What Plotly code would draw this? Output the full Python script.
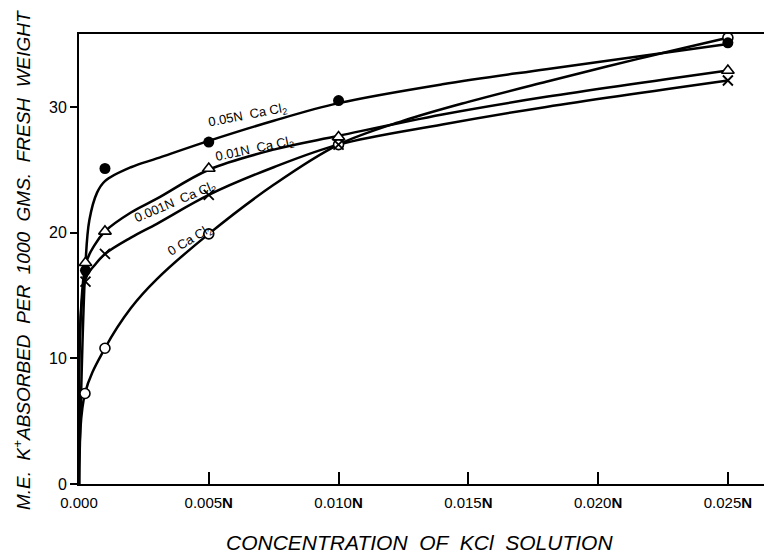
import plotly.graph_objects as go

# ---- data ----
kcl_pts = [0.00025, 0.001, 0.005, 0.010, 0.025]
ca005_pts = [17.0, 25.1, 27.2, 30.5, 35.1]
ca001_pts = [17.6, 20.1, 25.1, 27.6, 32.9]
ca0001_pts = [16.1, 18.3, 23.0, 27.0, 32.1]
ca0_kcl = [0.00023, 0.001, 0.005, 0.010, 0.025]
ca0_pts = [7.2, 10.8, 19.9, 27.0, 35.5]

# smooth curves drawn by hand in the original
c005_x = [0, 0.00025, 0.0004, 0.0007, 0.001, 0.002, 0.003, 0.005, 0.0075, 0.010, 0.014, 0.018, 0.025]
c005_y = [0, 17.5, 21.0, 23.2, 24.1, 25.2, 25.9, 27.3, 28.9, 30.3, 31.8, 33.0, 35.0]
c001_x = [0, 0.00025, 0.0006, 0.001, 0.002, 0.003, 0.005, 0.0075, 0.010, 0.014, 0.018, 0.025]
c001_y = [0, 17.4, 19.0, 20.1, 21.6, 22.7, 25.0, 26.6, 27.7, 29.4, 30.8, 32.9]
c0001_x = [0, 0.00025, 0.0006, 0.001, 0.002, 0.003, 0.005, 0.0075, 0.010, 0.014, 0.018, 0.025]
c0001_y = [0, 16.3, 17.4, 18.3, 19.6, 20.7, 23.0, 25.2, 27.0, 28.6, 30.0, 32.1]
c0_x = [0, 0.00023, 0.001, 0.002, 0.003, 0.005, 0.0075, 0.010, 0.0125, 0.015, 0.018, 0.0215, 0.025]
c0_y = [0, 7.2, 10.8, 14.0, 16.3, 19.9, 23.8, 27.0, 28.9, 30.4, 32.0, 33.8, 35.5]

x_tickvals = [0, 0.005, 0.010, 0.015, 0.020, 0.025]
x_ticktext = ["0.000", "0.005<b>N</b>", "0.010<b>N</b>", "0.015<b>N</b>", "0.020<b>N</b>", "0.025<b>N</b>"]
y_tickvals = [0, 10, 20, 30]

labels = [
    ("0.05N  Ca Cl<sub>2</sub>", 0.00651, 29.3, -11),
    ("0.01N  Ca Cl<sub>2</sub>", 0.00675, 26.6, -12),
    ("0.001N  Ca Cl<sub>2</sub>", 0.0037, 22.4, -23),
    ("0 Ca Cl<sub>2</sub>", 0.00428, 19.35, -31),
]

FONT = "Liberation Sans"
fig = go.Figure()

for cx, cy in [(c005_x, c005_y), (c001_x, c001_y), (c0001_x, c0001_y), (c0_x, c0_y)]:
    fig.add_trace(go.Scatter(x=cx, y=cy, mode="lines",
                             line=dict(color="black", width=2.5, shape="spline", smoothing=1.0),
                             hoverinfo="skip", showlegend=False))

fig.add_trace(go.Scatter(x=ca0_kcl, y=ca0_pts, mode="markers",
                         marker=dict(symbol="circle", size=10, color="white",
                                     line=dict(color="black", width=1.6)), showlegend=False))
fig.add_trace(go.Scatter(x=kcl_pts, y=ca005_pts, mode="markers",
                         marker=dict(symbol="circle", size=11, color="black"), showlegend=False))
fig.add_trace(go.Scatter(x=kcl_pts, y=ca001_pts, mode="markers",
                         marker=dict(symbol="triangle-up", size=11, color="white",
                                     line=dict(color="black", width=1.6)), showlegend=False))
fig.add_trace(go.Scatter(x=kcl_pts, y=ca0001_pts, mode="markers",
                         marker=dict(symbol="x-thin-open", size=10, color="black",
                                     line=dict(color="black", width=1.8)), showlegend=False))

for txt, lx, ly, ang in labels:
    fig.add_annotation(x=lx, y=ly, xref="x", yref="y", text=txt, showarrow=False,
                       textangle=ang, font=dict(family=FONT, size=13, color="black"))

fig.add_annotation(x=0.492, y=-0.131, xref="paper", yref="paper", yanchor="middle",
                   text="<i>CONCENTRATION  OF  KCl  SOLUTION</i>", showarrow=False,
                   font=dict(family=FONT, size=21, color="black"))
fig.add_annotation(x=-0.082, y=0.498, xref="paper", yref="paper", xanchor="center",
                   text="<i>M.E.  K<sup>+</sup>ABSORBED  PER  1000  GMS.  FRESH  WEIGHT</i>",
                   textangle=-90, showarrow=False,
                   font=dict(family=FONT, size=19, color="black"))

fig.update_layout(
    width=772, height=557,
    margin=dict(l=71, r=8, t=26, b=81),
    paper_bgcolor="white", plot_bgcolor="white",
    font=dict(family=FONT, color="black"),
    xaxis=dict(range=[0, 0.0267], tickvals=x_tickvals, ticktext=x_ticktext,
               ticks="inside", ticklen=12, tickwidth=1.5, tickcolor="black",
               showline=True, linecolor="black", linewidth=2, mirror=True,
               showgrid=False, zeroline=False, tickfont=dict(size=15),
               ticklabelstandoff=4),
    yaxis=dict(range=[0, 35.8], tickvals=y_tickvals,
               ticks="outside", ticklen=7, tickwidth=1.5, tickcolor="black",
               showline=True, linecolor="black", linewidth=2,
               showgrid=False, zeroline=False, tickfont=dict(size=16)),
)

fig.write_html("out.html")
